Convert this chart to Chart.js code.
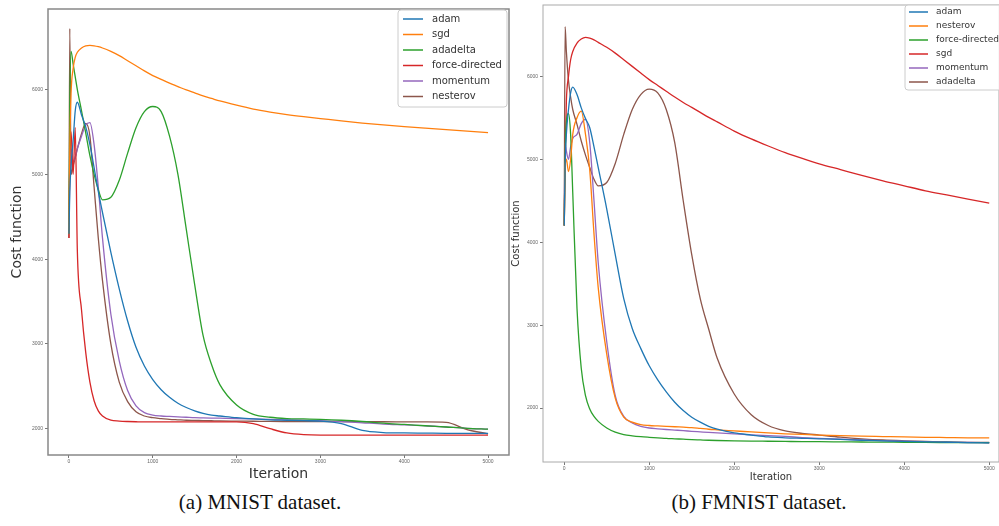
<!DOCTYPE html>
<html>
<head>
<meta charset="utf-8">
<script src="https://cdn.jsdelivr.net/npm/chart.js@4.4.1/dist/chart.umd.min.js"></script>
<style>
  body { margin: 0; background: #fff; width: 999px; height: 526px; position: relative; overflow: hidden; }
  #left { position: absolute; left: 0; top: 0; }
  #right { position: absolute; left: 510px; top: 0; }
  .cap { position: absolute; top: 490px; font-family: "Liberation Serif", "Times New Roman", serif; font-size: 21px; color: #111; transform: translateX(-50%); white-space: nowrap; }
</style>
</head>
<body>
<canvas id="left" width="510" height="490"></canvas>
<canvas id="right" width="489" height="490"></canvas>
<div class="cap" style="left:260px">(a) MNIST dataset.</div>
<div class="cap" style="left:759px">(b) FMNIST dataset.</div>
<script>
// iterations (dense at the start where the curves spike)
const iterations = [0, 10, 25, 50, 75, 100, 150, 200, 250, 300, 350, 400, 500, 600, 700, 800, 900, 1000, 1100, 1200,
  1300, 1400, 1500, 1600, 1700, 1800, 2000, 2200, 2400, 2600, 2800, 3000, 3250, 3500, 3750, 4000, 4250, 4500, 4750, 5000];
const xTickVals = [0, 1000, 2000, 3000, 4000, 5000];
const yTickVals = [2000, 3000, 4000, 5000, 6000];

// (a) MNIST
const mnistAdam = [4300, 4800, 5100, 5400, 5750, 5850, 5700, 5560, 5350, 5080, 4800, 4550, 4080, 3650, 3270, 2960, 2740, 2580, 2460, 2370,
  2300, 2250, 2210, 2180, 2160, 2150, 2130, 2115, 2105, 2100, 2095, 2090, 2060, 1980, 1955, 1950, 1948, 1946, 1945, 1945];
const mnistSgd = [4300, 5300, 5950, 6250, 6380, 6440, 6490, 6515, 6520, 6515, 6505, 6490, 6450, 6400, 6340, 6280, 6220, 6165, 6120, 6075,
  6035, 5995, 5960, 5925, 5895, 5865, 5815, 5770, 5735, 5705, 5680, 5658, 5630, 5605, 5583, 5563, 5545, 5528, 5510, 5493];
const mnistAdadelta = [4300, 5800, 6450, 6300, 6150, 6000, 5750, 5490, 5220, 5000, 4820, 4700, 4730, 4930, 5250, 5550, 5740, 5800, 5740, 5450,
  5000, 4350, 3700, 3100, 2760, 2520, 2280, 2170, 2135, 2120, 2115, 2110, 2100, 2085, 2065, 2050, 2035, 2020, 2005, 1995];
const mnistForce = [4250, 5200, 5500, 5000, 5550, 4100, 3400, 2900, 2550, 2330, 2210, 2150, 2100, 2090, 2085, 2082, 2080, 2080, 2080, 2080,
  2080, 2080, 2080, 2080, 2080, 2080, 2080, 2060, 2000, 1950, 1930, 1925, 1925, 1925, 1925, 1925, 1925, 1925, 1925, 1925];
const mnistMomentum = [4300, 5000, 5300, 5150, 5200, 5300, 5450, 5580, 5610, 5350, 4850, 4250, 3350, 2800, 2450, 2270, 2190, 2160, 2150, 2145,
  2140, 2135, 2130, 2128, 2126, 2124, 2120, 2115, 2110, 2105, 2100, 2095, 2085, 2070, 2055, 2045, 2035, 2020, 2005, 1995];
const mnistNesterov = [4250, 6720, 5000, 5100, 5200, 5300, 5480, 5600, 5450, 4850, 4250, 3750, 3000, 2550, 2320, 2200, 2150, 2130, 2120, 2110,
  2105, 2100, 2098, 2096, 2094, 2092, 2090, 2088, 2086, 2085, 2084, 2083, 2083, 2082, 2082, 2081, 2080, 2075, 1990, 1940];

// (b) FMNIST
const fmnistAdam = [4200, 4900, 5300, 5600, 5800, 5870, 5780, 5620, 5490, 5380, 5150, 4900, 4400, 3850, 3320, 2960, 2720, 2510, 2340, 2195,
  2070, 1970, 1890, 1830, 1780, 1745, 1700, 1675, 1652, 1642, 1636, 1630, 1622, 1612, 1605, 1598, 1592, 1588, 1584, 1580];
const fmnistNesterov = [4200, 4900, 5000, 4850, 5000, 5300, 5500, 5580, 5300, 4870, 4100, 3450, 2650, 2120, 1890, 1830, 1800, 1790, 1785, 1780,
  1775, 1770, 1765, 1755, 1745, 1738, 1725, 1712, 1700, 1690, 1682, 1675, 1668, 1662, 1657, 1652, 1648, 1645, 1642, 1640];
const fmnistForce = [4200, 5000, 5450, 5550, 5300, 4600, 3200, 2480, 2150, 1990, 1900, 1840, 1760, 1710, 1680, 1665, 1655, 1648, 1642, 1635,
  1630, 1625, 1620, 1616, 1612, 1609, 1605, 1602, 1600, 1598, 1596, 1595, 1593, 1591, 1589, 1588, 1586, 1585, 1584, 1583];
const fmnistSgd = [4200, 5000, 5700, 6000, 6200, 6300, 6400, 6450, 6470, 6460, 6440, 6410, 6350, 6280, 6200, 6120, 6040, 5960, 5890, 5820,
  5750, 5685, 5625, 5565, 5505, 5450, 5340, 5245, 5160, 5080, 5010, 4945, 4875, 4805, 4740, 4680, 4620, 4570, 4520, 4470];
const fmnistMomentum = [4200, 5200, 5100, 5000, 5150, 5250, 5300, 5430, 5480, 5200, 4500, 3750, 2800, 2150, 1900, 1820, 1780, 1760, 1750, 1742,
  1735, 1728, 1720, 1713, 1706, 1700, 1690, 1678, 1668, 1658, 1645, 1635, 1625, 1615, 1608, 1600, 1594, 1589, 1585, 1582];
const fmnistAdadelta = [4200, 6600, 6300, 5950, 5750, 5600, 5420, 5220, 5050, 4900, 4760, 4680, 4720, 4950, 5300, 5600, 5780, 5845, 5800, 5600,
  5200, 4500, 3850, 3320, 2950, 2600, 2170, 1920, 1790, 1725, 1695, 1675, 1650, 1630, 1615, 1605, 1597, 1592, 1587, 1585];

const BLUE = "#1f77b4", ORANGE = "#ff7f0e", GREEN = "#2ca02c", RED = "#d62728", PURPLE = "#9467bd", BROWN = "#8c564b";

function series(label, values, color) {
  return {
    label: label,
    data: values.map((v, i) => ({ x: iterations[i], y: v })),
    borderColor: color,
    backgroundColor: color,
    borderWidth: 1.3,
    pointRadius: 0,
    cubicInterpolationMode: "monotone",
    fill: false,
  };
}

// box frame round the plot, like matplotlib
const framePlugin = {
  id: "frame",
  afterDatasetsDraw(chart, args, opts) {
    const a = chart.chartArea, ctx = chart.ctx;
    ctx.save();
    ctx.strokeStyle = opts.color;
    ctx.lineWidth = opts.width;
    ctx.strokeRect(a.left, a.top, a.right - a.left, a.bottom - a.top);
    ctx.restore();
  },
};

// legend box drawn inside the plot, line samples + labels
const boxLegend = {
  id: "boxLegend",
  afterDraw(chart, args, o) {
    const ctx = chart.ctx;
    ctx.save();
    ctx.fillStyle = "rgba(255,255,255,0.85)";
    ctx.strokeStyle = "#cccccc";
    ctx.lineWidth = 1;
    ctx.beginPath();
    ctx.roundRect(o.x, o.y, o.w, o.h, 3);
    ctx.fill();
    ctx.stroke();
    ctx.font = o.fontSize + "px 'DejaVu Sans'";
    ctx.textBaseline = "middle";
    chart.data.datasets.forEach((ds, i) => {
      const y = o.firstRow + i * o.rowH;
      ctx.strokeStyle = ds.borderColor;
      ctx.lineWidth = 1.5;
      ctx.beginPath();
      ctx.moveTo(o.lineX, y);
      ctx.lineTo(o.lineX + o.lineW, y);
      ctx.stroke();
      ctx.fillStyle = "#333";
      ctx.fillText(ds.label, o.textX, y);
    });
    ctx.restore();
  },
};

function makeChart(id, datasets, cfg) {
  return new Chart(document.getElementById(id), {
    type: "line",
    data: { datasets: datasets },
    options: {
      responsive: false,
      animation: false,
      layout: { padding: cfg.padding },
      scales: {
        x: {
          type: "linear",
          min: -250,
          max: cfg.xMax,
          afterBuildTicks: (s) => { s.ticks = xTickVals.map((v) => ({ value: v })); },
          afterFit: (s) => { s.height = cfg.xAxisH; },
          grid: { drawOnChartArea: false, tickLength: 3, color: "#777" },
          border: { display: false },
          ticks: { color: "#666", font: { size: 5 }, padding: 1, maxRotation: 0, callback: (v) => String(v) },
          title: { display: true, text: "Iteration", color: "#333", font: { family: "DejaVu Sans", size: cfg.titleSize }, padding: { top: 0, bottom: cfg.xTitlePad } },
        },
        y: {
          min: cfg.yMin,
          max: cfg.yMax,
          afterBuildTicks: (s) => { s.ticks = yTickVals.map((v) => ({ value: v })); },
          afterFit: (s) => { s.width = cfg.yAxisW; },
          grid: { drawOnChartArea: false, tickLength: 3, color: "#777" },
          border: { display: false },
          ticks: { color: "#666", font: { size: 5 }, padding: 2, callback: (v) => String(v) },
          title: { display: true, text: "Cost function", color: "#333", font: { family: "DejaVu Sans", size: cfg.titleSize }, padding: { top: cfg.yTitlePad, bottom: 0 } },
        },
      },
      plugins: {
        legend: { display: false },
        tooltip: { enabled: false },
        frame: cfg.frame,
        boxLegend: cfg.legend,
      },
    },
    plugins: [framePlugin, boxLegend],
  });
}

makeChart("left", [
  series("adam", mnistAdam, BLUE),
  series("sgd", mnistSgd, ORANGE),
  series("adadelta", mnistAdadelta, GREEN),
  series("force-directed", mnistForce, RED),
  series("momentum", mnistMomentum, PURPLE),
  series("nesterov", mnistNesterov, BROWN),
], {
  padding: { top: 9, right: 1, left: 0, bottom: 0 },
  xMax: 5250, yMin: 1690, yMax: 6950,
  xAxisH: 35, yAxisW: 48,
  titleSize: 14, xTitlePad: 7, yTitlePad: 9,
  frame: { color: "#888", width: 1.5 },
  legend: { x: 398, y: 10, w: 109, h: 97, firstRow: 19, rowH: 15.5, lineX: 403, lineW: 20, textX: 432, fontSize: 10 },
});

makeChart("right", [
  series("adam", fmnistAdam, BLUE),
  series("nesterov", fmnistNesterov, ORANGE),
  series("force-directed", fmnistForce, GREEN),
  series("sgd", fmnistSgd, RED),
  series("momentum", fmnistMomentum, PURPLE),
  series("adadelta", fmnistAdadelta, BROWN),
], {
  padding: { top: 1, right: 0, left: 0, bottom: 0 },
  xMax: 5115, yMin: 1350, yMax: 6860,
  xAxisH: 28, yAxisW: 33,
  titleSize: 10, xTitlePad: 7, yTitlePad: 0,
  frame: { color: "#aaa", width: 1 },
  legend: { x: 395, y: 5, w: 100, h: 85, firstRow: 12, rowH: 14, lineX: 399, lineW: 19, textX: 426, fontSize: 9 },
});
</script>
</body>
</html>
